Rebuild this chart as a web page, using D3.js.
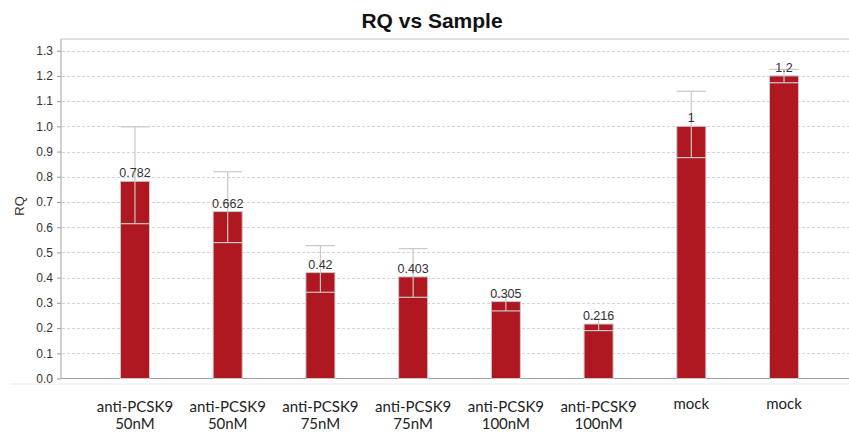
<!DOCTYPE html>
<html><head><meta charset="utf-8">
<script src="https://cdn.jsdelivr.net/npm/d3@7"></script>
<style>body{margin:0;background:#fff}svg{display:block}</style>
</head><body>
<svg id="chart" width="849" height="434"></svg>
<script>
const sampleLine1 = ["anti-PCSK9","anti-PCSK9","anti-PCSK9","anti-PCSK9","anti-PCSK9","anti-PCSK9","mock","mock"];
const sampleLine2 = ["50nM","50nM","75nM","75nM","100nM","100nM","",""];
const rq    = [0.782, 0.662, 0.42, 0.403, 0.305, 0.216, 1, 1.2];
const rqMin = [0.614, 0.539, 0.342, 0.322, 0.268, 0.190, 0.876, 1.173];
const rqMax = [0.998, 0.820, 0.527, 0.515, 0.325, 0.236, 1.139, 1.226];
const yTicks = [0,0.1,0.2,0.3,0.4,0.5,0.6,0.7,0.8,0.9,1.0,1.1,1.2,1.3];

const svg = d3.select("#chart");
const W = 849, H = 434;
const axisX = 61, axisTop = 39, axisBottom = 378.5;

const y = d3.scaleLinear().domain([0, 1.3]).range([axisBottom, 50.7]);
const x = d3.scaleBand().domain(d3.range(rq.length)).range([88.6, 830.4])
  .paddingInner(0.687).paddingOuter(0.3435);

// title
svg.append("text").attr("x", 432).attr("y", 28).attr("text-anchor","middle")
  .attr("font-family","Arial, 'Liberation Sans', sans-serif").attr("font-weight","bold")
  .attr("font-size", 21).attr("fill","#111").text("RQ vs Sample");

// top border
svg.append("line").attr("x1", axisX).attr("x2", W).attr("y1", axisTop).attr("y2", axisTop)
  .attr("stroke","#d9d9d9").attr("stroke-width",1.5);
// faint bottom band
svg.append("line").attr("x1", 10).attr("x2", W).attr("y1", 384).attr("y2", 384)
  .attr("stroke","#f0f0f0").attr("stroke-width",1.5);

// grid
svg.append("g").selectAll("line").data(yTicks.filter(d=>d>0)).join("line")
  .attr("x1", axisX+1).attr("x2", W).attr("y1", d=>Math.round(y(d))+0.5).attr("y2", d=>Math.round(y(d))+0.5)
  .attr("stroke","#d4d4d4").attr("stroke-dasharray","3,2").attr("stroke-width",1);

// y axis
const yAxis = svg.append("g").attr("transform", `translate(${axisX},0)`)
  .call(d3.axisLeft(y).tickValues(yTicks).tickFormat(d3.format(".1f")).tickSizeOuter(0).tickSize(4));
yAxis.select(".domain").remove();
yAxis.selectAll(".tick line").attr("stroke","#999");
yAxis.selectAll(".tick text").attr("font-family","Arial, 'Liberation Sans', sans-serif")
  .attr("font-size",12).attr("fill","#333").attr("x",-8);
svg.append("line").attr("x1", axisX).attr("x2", axisX).attr("y1", axisTop).attr("y2", axisBottom)
  .attr("stroke","#a0a0a0").attr("stroke-width",1);
svg.append("line").attr("x1", axisX).attr("x2", W).attr("y1", axisBottom).attr("y2", axisBottom)
  .attr("stroke","#a0a0a0").attr("stroke-width",1);

// y label
svg.append("text").attr("transform","translate(24,206) rotate(-90)").attr("text-anchor","middle")
  .attr("font-family","Arial, 'Liberation Sans', sans-serif").attr("font-size",13).attr("fill","#333").text("RQ");

const g = svg.append("g");
const idx = d3.range(rq.length);
// bars
g.selectAll("rect.bar").data(idx).join("rect").attr("class","bar")
  .attr("x", i=>x(i)).attr("width", x.bandwidth())
  .attr("y", i=>y(rq[i])).attr("height", i=>axisBottom - y(rq[i]))
  .attr("fill","#af1820").attr("stroke","#c8c8c8").attr("stroke-width",1);
// error bars
g.selectAll("line.whisk").data(idx).join("line").attr("class","whisk")
  .attr("x1", i=>x(i)+x.bandwidth()/2).attr("x2", i=>x(i)+x.bandwidth()/2)
  .attr("y1", i=>y(rqMin[i])).attr("y2", i=>y(rqMax[i]))
  .attr("stroke","#c8c8c8").attr("stroke-width",1.2);
g.selectAll("line.capT").data(idx).join("line").attr("class","capT")
  .attr("x1", i=>x(i)).attr("x2", i=>x(i)+x.bandwidth())
  .attr("y1", i=>y(rqMax[i])).attr("y2", i=>y(rqMax[i]))
  .attr("stroke","#c8c8c8").attr("stroke-width",1.2);
g.selectAll("line.capB").data(idx).join("line").attr("class","capB")
  .attr("x1", i=>x(i)).attr("x2", i=>x(i)+x.bandwidth())
  .attr("y1", i=>y(rqMin[i])).attr("y2", i=>y(rqMin[i]))
  .attr("stroke","#c8c8c8").attr("stroke-width",1.2);
// value labels
g.selectAll("text.val").data(idx).join("text").attr("class","val")
  .attr("x", i=>x(i)+x.bandwidth()/2).attr("y", i=>y(rq[i])-4)
  .attr("text-anchor","middle").attr("font-family","Arial, 'Liberation Sans', sans-serif")
  .attr("font-size",12.5).attr("fill","#333").text(i=>String(rq[i]));

// x labels
const xl = svg.append("g");
idx.forEach(i=>{
  const cx = x(i)+x.bandwidth()/2;
  const t = xl.append("text").attr("text-anchor","middle").attr("font-family","Lato, 'Open Sans', sans-serif")
    .attr("font-size",15).attr("fill","#222");
  if (sampleLine2[i]) {
    t.append("tspan").attr("x", cx).attr("y", 412).text(sampleLine1[i]);
    t.append("tspan").attr("x", cx).attr("y", 429).text(sampleLine2[i]);
  } else {
    t.append("tspan").attr("x", cx).attr("y", 409).text(sampleLine1[i]);
  }
});
</script>
</body></html>
